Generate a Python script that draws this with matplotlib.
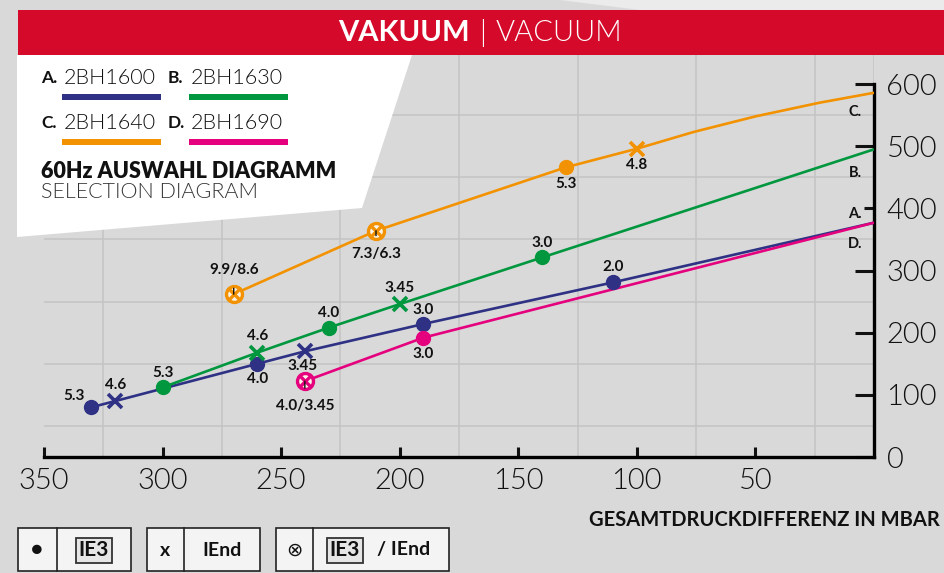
import matplotlib
matplotlib.use("Agg")
import matplotlib.pyplot as plt
from matplotlib.patches import Rectangle, Polygon
import numpy as np

plt.rcParams["font.family"] = ["Lato", "DejaVu Sans"]

# --- data ---
a_x = [330, 320, 260, 240, 190, 110, 0]
a_y = [80, 90, 150, 170, 214, 281, 377]
a_kind = ["ie3", "iend", "ie3", "iend", "ie3", "ie3", ""]
a_lab = ["5.3", "4.6", "4.0", "3.45", "3.0", "2.0", ""]

b_x = [300, 260, 230, 200, 140, 0]
b_y = [112, 168, 208, 246, 321, 495]
b_kind = ["ie3", "iend", "ie3", "iend", "ie3", ""]
b_lab = ["5.3", "4.6", "4.0", "3.45", "3.0", ""]

c_x = [270, 210, 130, 100, 76, 50, 23, 0]
c_y = [262, 364, 466, 496, 523, 548, 570, 586]
c_kind = ["both", "both", "ie3", "iend", "", "", "", ""]
c_lab = ["9.9/8.6", "7.3/6.3", "5.3", "4.8", "", "", "", ""]

d_x = [240, 190, 0]
d_y = [122, 192, 377]
d_kind = ["both", "ie3", ""]
d_lab = ["4.0/3.45", "3.0", ""]

names = ["2BH1600", "2BH1630", "2BH1640", "2BH1690"]
letters = ["A.", "B.", "C.", "D."]
x_ticks = [350, 300, 250, 200, 150, 100, 50]
y_ticks = [0, 100, 200, 300, 400, 500, 600]

NAVY = "#2e3184"
GREEN = "#00973f"
ORANGE = "#f39200"
MAGENTA = "#e5007e"
BG = "#d9d9d9"
RED = "#d50a2a"
LIGHT = 300  # Lato Light

W, H = 944, 573
fig = plt.figure(figsize=(W / 100, H / 100), dpi=100, facecolor=BG)


def px(x, y):
    # pixel (from top-left) -> figure fraction
    return x / W, 1 - y / H


ax = fig.add_axes([44 / W, 1 - 457 / H, 830 / W, 404 / H])
ax.set_facecolor(BG)
ax.set_xlim(350, 0)
ax.set_ylim(0, 646)

# grid
ax.set_xticks(np.arange(0, 351, 25), minor=True)
ax.set_yticks(np.arange(0, 651, 50), minor=True)
ax.grid(which="minor", color="#c3c3c3", lw=1.1)
ax.tick_params(which="minor", length=0)
ax.set_axisbelow(True)

for s in ["top", "left"]:
    ax.spines[s].set_visible(False)
ax.spines["bottom"].set_linewidth(2.4)
ax.spines["right"].set_linewidth(2.4)
ax.spines["right"].set_bounds(0, 600)

ax.set_xticks(x_ticks)
ax.set_xticklabels([str(v) for v in x_ticks])
ax.yaxis.tick_right()
ax.set_yticks(y_ticks)
ax.set_yticklabels([str(v) for v in y_ticks])
ax.tick_params(axis="x", which="major", direction="in", length=7, width=2.2,
               pad=8, labelsize=21, colors="#111111")
ax.tick_params(axis="y", which="major", direction="in", length=14, width=2.2,
               pad=9, labelsize=21, colors="#111111")
for lab in ax.get_xticklabels() + ax.get_yticklabels():
    lab.set_fontweight(LIGHT)
ax.yaxis.get_major_ticks()[4].tick2line.set_markersize(7)

series = [
    (a_x, a_y, a_kind, a_lab, NAVY),
    (b_x, b_y, b_kind, b_lab, GREEN),
    (c_x, c_y, c_kind, c_lab, ORANGE),
    (d_x, d_y, d_kind, d_lab, MAGENTA),
]

# label offsets in pixels, per series / point
offsets = [
    [(-17, 11), (0, 16), (0, -15), (-2, -15), (0, 14), (0, 15), None],
    [(0, 14), (0, 17), (0, 15), (0, 16), (0, 14), None],
    [(0, 24), (0, -23), (0, -17), (0, -16), None, None, None, None],
    [(0, -25), (0, -16), None],
]
pointer = {"9.9/8.6", "7.3/6.3", "4.0/3.45"}

for (xs, ys, kinds, labs, col), offs in zip(series, offsets):
    ax.plot(xs, ys, color=col, lw=1.9, zorder=3, solid_capstyle="butt",
            solid_joinstyle="round")
    for x, y, k, lab, off in zip(xs, ys, kinds, labs, offs):
        if k == "ie3":
            ax.plot(x, y, "o", color=col, ms=10, zorder=4)
        elif k == "iend":
            ax.plot(x, y, "x", color=col, ms=10, mew=2.6, zorder=4)
        elif k == "both":
            ax.plot(x, y, "o", mfc="#fdf3e6", mec=col, ms=11.5, mew=2.4, zorder=4)
            ax.plot(x, y, "x", color=col, ms=7, mew=2.4, zorder=5)
        if lab:
            kw = {}
            if lab in pointer:
                kw["arrowprops"] = dict(arrowstyle="-", color="#111111", lw=1.0,
                                        shrinkA=6, shrinkB=8)
            ax.annotate(lab, (x, y), xytext=off, textcoords="offset pixels",
                        ha="center", va="center", fontsize=11, fontweight="bold",
                        color="#111111", zorder=6, **kw)

# letters at the right end of each curve
end_offs = [(-19, 9), (-19, -24), (-19, -19), (-19, -21)]
for (xs, ys, _, _, _), letter, off in zip(series, letters, end_offs):
    ax.annotate(letter, (xs[-1], ys[-1]), xytext=off, textcoords="offset pixels",
                ha="center", va="center", fontsize=10.5, fontweight="bold",
                color="#111111")

# --- header band ---
fig.add_artist(Polygon([px(560, 0), px(W, 0), px(W, 10), px(640, 10)],
                       closed=True, fc="#ebebeb", ec="none", zorder=1))
x0, y0 = px(18, 55)
fig.add_artist(Rectangle((x0, y0), 1 - x0, 45 / H, fc=RED, ec="none", zorder=2))
fig.text(*px(470, 33), "VAKUUM", ha="right", va="center", color="white",
         fontsize=21, fontweight="bold", zorder=3)
fig.text(*px(483, 33), "|", ha="center", va="center", color="white",
         fontsize=21, fontweight=LIGHT, zorder=3)
fig.text(*px(496, 33), "VACUUM", ha="left", va="center", color="white",
         fontsize=21, fontweight=LIGHT, zorder=3)

# --- white legend panel ---
fig.add_artist(Polygon([px(17, 55), px(412, 55), px(362, 208), px(17, 237)],
                       closed=True, fc="white", ec="none", zorder=2))
cols = [NAVY, GREEN, ORANGE, MAGENTA]
for i, (letter, name, col) in enumerate(zip(letters, names, cols)):
    lx = 41 if i % 2 == 0 else 168
    ly = 78 if i < 2 else 123
    fig.text(*px(lx, ly), letter, ha="left", va="center", fontsize=12.5,
             fontweight="bold", color="#111111", zorder=3)
    fig.text(*px(lx + 23, ly), name, ha="left", va="center", fontsize=15.5,
             fontweight=LIGHT, color="#111111", zorder=3)
    bx, by = px(lx + 21, ly + 22)
    fig.add_artist(Rectangle((bx, by), 99 / W, 6 / H, fc=col, ec="none", zorder=3))
fig.text(*px(41, 172), "60Hz AUSWAHL DIAGRAMM", ha="left", va="center",
         fontsize=15.5, fontweight="heavy", color="#111111", zorder=3)
fig.text(*px(41, 192), "SELECTION DIAGRAM", ha="left", va="center",
         fontsize=15.5, fontweight=LIGHT, color="#333333", zorder=3)

# --- axis title ---
fig.text(*px(940, 520), "GESAMTDRUCKDIFFERENZ IN MBAR", ha="right", va="center",
         fontsize=14.5, fontweight="bold", color="#111111")

# --- marker legend boxes ---
boxes = [(18, 57, 131), (147, 184, 260), (276, 313, 449)]
for left, div, right in boxes:
    bl = px(left, 571)
    fig.add_artist(Rectangle(bl, (right - left) / W, 43 / H, fc="#f4f4f4",
                             ec="#222222", lw=1.2, zorder=2))
    fig.add_artist(plt.Line2D([div / W, div / W], [bl[1], bl[1] + 43 / H],
                              color="#222222", lw=1.2, zorder=3))
sym_kw = dict(ha="center", va="center", color="#111111", zorder=4)
frame = dict(boxstyle="square,pad=0.12", fc="#e6e6e6", ec="#333333", lw=1.3)
fig.text(*px(37, 550), "\u25cf", fontsize=14, **sym_kw)
fig.text(*px(94, 550), "IE3", fontsize=15, fontweight="bold", bbox=frame, **sym_kw)
fig.text(*px(165, 550), "x", fontsize=14, fontweight="bold", **sym_kw)
fig.text(*px(222, 550), "IEnd", fontsize=14, fontweight="bold", **sym_kw)
fig.text(*px(294, 550), "\u2297", fontsize=14, **sym_kw)
fig.text(*px(345, 550), "IE3", fontsize=15, fontweight="bold", bbox=frame, **sym_kw)
fig.text(*px(404, 550), "/ IEnd", fontsize=14, fontweight="bold", **sym_kw)

fig.savefig("out.png", dpi=100, facecolor=BG)
